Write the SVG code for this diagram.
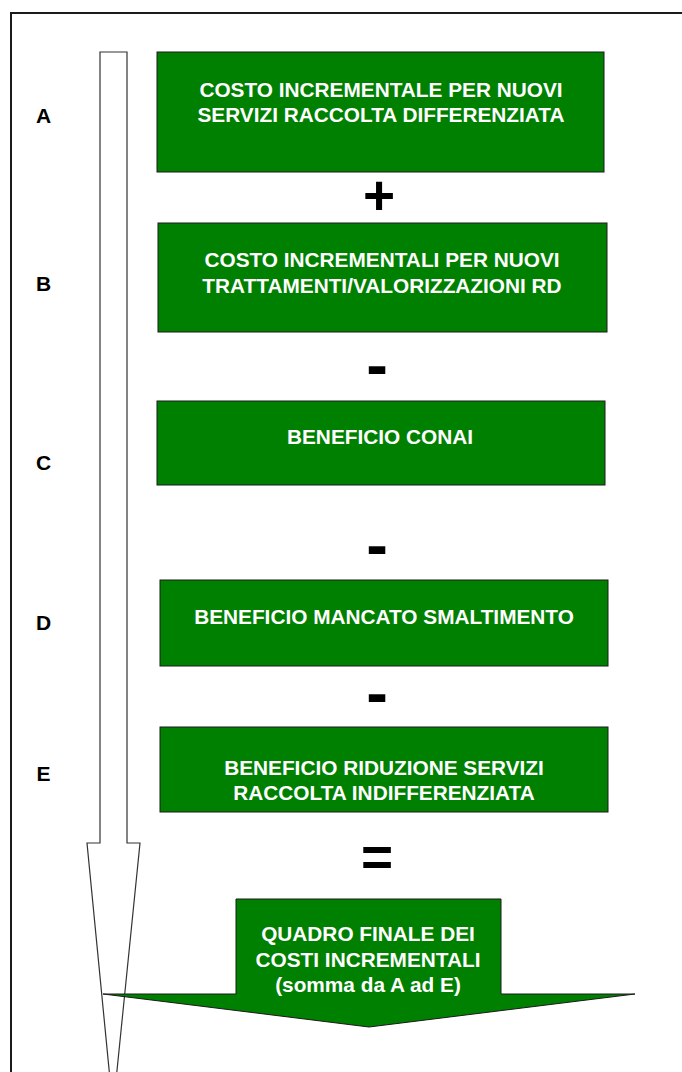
<svg xmlns="http://www.w3.org/2000/svg" width="682" height="1072" viewBox="0 0 682 1072">
<style>
.box{fill:#008000;stroke:#1a1a1a;stroke-width:1}
.bt{font-family:"Liberation Sans",Arial,sans-serif;font-weight:bold;font-size:20.8px;fill:#ffffff;text-anchor:middle}
.lbl{font-family:"Liberation Sans",Arial,sans-serif;font-weight:bold;font-size:21px;fill:#000000;text-anchor:middle}
.op{font-family:"Liberation Sans",Arial,sans-serif;font-weight:bold;fill:#000000;text-anchor:middle}
</style>
<rect x="0" y="0" width="682" height="1072" fill="#ffffff"/>
<g id="frame">
<path d="M11,1080 L11,13 L690,13" fill="none" stroke="#1a1a1a" stroke-width="2"/>
</g>
<g id="connectors">
<path d="M100,52 L127,52 L127,843 L140,843 L113,1110 L87,843 L100,843 Z" fill="#ffffff" stroke="#333333" stroke-width="1.2"/>
</g>
<g id="labels">
<text class="lbl" x="43.5" y="123">A</text>
<text class="lbl" x="43.5" y="290.5">B</text>
<text class="lbl" x="43.5" y="469.5">C</text>
<text class="lbl" x="43.5" y="629.5">D</text>
<text class="lbl" x="43.5" y="780.5">E</text>
</g>
<g id="nodeA">
<rect class="box" x="157" y="52" width="447" height="120"/>
<text class="bt" x="381" y="97">COSTO INCREMENTALE PER NUOVI</text>
<text class="bt" x="381" y="122">SERVIZI RACCOLTA DIFFERENZIATA</text>
</g>
<g id="opPlus"><text class="op" x="379" y="214" font-size="55">+</text></g>
<g id="nodeB">
<rect class="box" x="158" y="223" width="449" height="109"/>
<text class="bt" x="382" y="267">COSTO INCREMENTALI PER NUOVI</text>
<text class="bt" x="382" y="293">TRATTAMENTI/VALORIZZAZIONI RD</text>
</g>
<g id="opMinus1"><text class="op" x="377" y="387" font-size="65">-</text></g>
<g id="nodeC">
<rect class="box" x="157" y="401" width="448" height="84"/>
<text class="bt" x="380" y="444">BENEFICIO CONAI</text>
</g>
<g id="opMinus2"><text class="op" x="377" y="567" font-size="65">-</text></g>
<g id="nodeD">
<rect class="box" x="160" y="580" width="448" height="86"/>
<text class="bt" x="384" y="624">BENEFICIO MANCATO SMALTIMENTO</text>
</g>
<g id="opMinus3"><text class="op" x="377" y="715" font-size="65">-</text></g>
<g id="nodeE">
<rect class="box" x="160" y="727" width="448" height="85"/>
<text class="bt" x="384" y="775">BENEFICIO RIDUZIONE SERVIZI</text>
<text class="bt" x="384" y="800">RACCOLTA INDIFFERENZIATA</text>
</g>
<g id="opEquals"><text class="op" x="377" y="876" font-size="55">=</text></g>
<g id="nodeFinal">
<path class="box" d="M236,899 L501,899 L501,994 L635,994 L369,1027 L103,994 L236,994 Z"/>
<text class="bt" x="368" y="941">QUADRO FINALE DEI</text>
<text class="bt" x="368" y="967">COSTI INCREMENTALI</text>
<text class="bt" x="368" y="992">(somma da A ad E)</text>
</g>
</svg>
